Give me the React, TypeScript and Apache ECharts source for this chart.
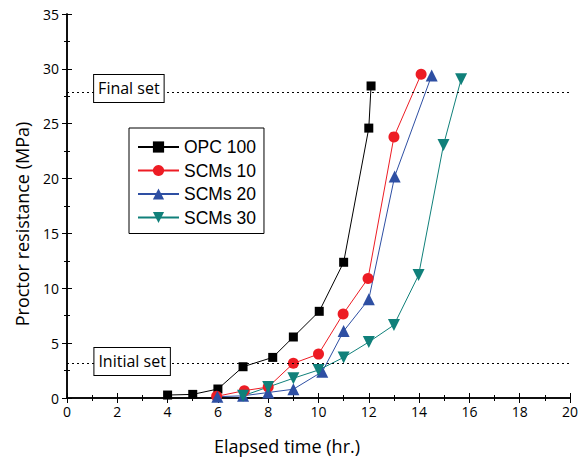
import React, { useEffect, useRef } from "react";
import * as echarts from "echarts";

const opcX = [4, 5, 6, 7, 8.18, 9, 10.03, 11, 12, 12.09];
const opcY = [0.27, 0.33, 0.82, 2.85, 3.7, 5.56, 7.9, 12.37, 24.6, 28.44];
const s10X = [5.95, 7.05, 8, 9, 10, 10.98, 11.97, 13, 14.08];
const s10Y = [0.15, 0.67, 1.0, 3.16, 4.0, 7.66, 10.9, 23.8, 29.5];
const s20X = [5.98, 7, 8, 9, 10.15, 11, 12, 13.03, 14.5];
const s20Y = [0.12, 0.2, 0.5, 0.8, 2.4, 6.1, 9.0, 20.2, 29.4];
const s30X = [7, 8, 9, 10, 11, 12, 13, 13.98, 14.97, 15.67];
const s30Y = [0.2, 1.0, 1.8, 2.55, 3.7, 5.1, 6.65, 11.2, 23.06, 29.05];
const seriesNames = ["OPC 100", "SCMs 10", "SCMs 20", "SCMs 30"];
const finalSet = 27.9;
const initialSet = 3.2;
const xTitle = "Elapsed time (hr.)";
const yTitle = "Proctor resistance (MPa)";

const zip = (xs: number[], ys: number[]) => xs.map((x, i) => [x, ys[i]]);

const TXT = "Open Sans";

export default function App() {
  const ref = useRef<HTMLDivElement>(null);
  useEffect(() => {
    const chart = echarts.init(ref.current!, null, { renderer: "svg" });
    const inv = "path://M0,0 L10,0 L5,9 Z";
    const mk = (name: string, data: number[][], color: string, symbol: string, size: number) => ({
      name,
      type: "line",
      data,
      symbol,
      symbolSize: size,
      itemStyle: { color },
      lineStyle: { color, width: 1 },
      xAxisIndex: 0,
      yAxisIndex: 0,
    });
    const boxLabel = {
      show: true,
      position: "inside",
      backgroundColor: "#fff",
      borderColor: "#000",
      borderWidth: 1,
      padding: [4, 4, 4, 4],
      lineHeight: 19,
      color: "#000",
      fontFamily: TXT,
      fontSize: 16,
    };
    const s0: any = mk(seriesNames[0], zip(opcX, opcY), "#000000", "rect", 9);
    s0.markLine = {
      silent: true,
      symbol: "none",
      label: { show: false },
      lineStyle: { color: "#000", type: [2, 3], width: 1 },
      data: [{ yAxis: finalSet }, { yAxis: initialSet }],
    };
    s0.markPoint = {
      silent: true,
      symbol: "circle",
      symbolSize: 0,
      data: [
        { coord: [2.46, 28.21], label: { ...boxLabel, formatter: "Final set" } },
        { coord: [2.59, 3.33], label: { ...boxLabel, formatter: "Initial set" } },
      ],
    };
    chart.setOption({
      animation: false,
      grid: { left: 67, right: 9, top: 14, bottom: 63 },
      graphic: [
        {
          type: "text",
          x: 287,
          y: 446,
          style: {
            text: xTitle,
            fontFamily: TXT,
            fontSize: 18,
            fill: "#000",
            textAlign: "center",
            textVerticalAlign: "middle",
          },
        },
        {
          type: "text",
          x: 22,
          y: 224,
          rotation: Math.PI / 2,
          style: {
            text: yTitle,
            fontFamily: TXT,
            fontSize: 18,
            fill: "#000",
            textAlign: "center",
            textVerticalAlign: "middle",
          },
        },
      ],
      legend: {
        orient: "vertical",
        left: 129,
        top: 128,
        itemWidth: 41,
        itemHeight: 14,
        itemGap: 5.5,
        padding: [10, 8, 7, 8],
        borderColor: "#000",
        borderWidth: 1,
        backgroundColor: "#fff",
        textStyle: { fontFamily: "Liberation Sans", fontSize: 17.5, color: "#000" },
        data: seriesNames,
      },
      xAxis: [
        {
          type: "value",
          min: 0,
          max: 20,
          interval: 2,
          axisLine: { lineStyle: { color: "#000", width: 1.5 } },
          axisTick: { inside: true, length: 5, lineStyle: { color: "#000" } },
          minorTick: { show: true, splitNumber: 2, length: 3, lineStyle: { color: "#000" } },
          axisLabel: { fontFamily: TXT, fontSize: 14, color: "#000", margin: 6 },
          splitLine: { show: false },
        },
        {
          type: "value",
          position: "top",
          min: 0,
          max: 20,
          interval: 2,
          axisLine: { show: true, lineStyle: { color: "#000", width: 1.5 } },
          axisTick: { inside: true, length: 5, lineStyle: { color: "#000" } },
          minorTick: { show: true, splitNumber: 2, length: 3, lineStyle: { color: "#000" } },
          axisLabel: { show: false },
          splitLine: { show: false },
        },
      ],
      yAxis: [
        {
          type: "value",
          min: 0,
          max: 35,
          interval: 5,
          axisLine: { show: true, lineStyle: { color: "#000", width: 1.5 } },
          axisTick: { inside: true, length: 5, lineStyle: { color: "#000" } },
          minorTick: { show: true, splitNumber: 2, length: 3, lineStyle: { color: "#000" } },
          axisLabel: { fontFamily: TXT, fontSize: 14, color: "#000", margin: 8 },
          splitLine: { show: false },
        },
        {
          type: "value",
          position: "right",
          min: 0,
          max: 35,
          interval: 5,
          axisLine: { show: true, lineStyle: { color: "#000", width: 1.5 } },
          axisTick: { inside: true, length: 5, lineStyle: { color: "#000" } },
          minorTick: { show: true, splitNumber: 2, length: 3, lineStyle: { color: "#000" } },
          axisLabel: { show: false },
          splitLine: { show: false },
        },
      ],
      series: [
        s0,
        mk(seriesNames[1], zip(s10X, s10Y), "#ED1C24", "circle", 11),
        mk(seriesNames[2], zip(s20X, s20Y), "#2E4FA3", "triangle", 12),
        mk(seriesNames[3], zip(s30X, s30Y), "#10807A", inv, 12),
      ],
    });
    return () => chart.dispose();
  }, []);
  return <div ref={ref} style={{ width: 581, height: 461, position: "absolute", left: 0, top: 0 }} />;
}
